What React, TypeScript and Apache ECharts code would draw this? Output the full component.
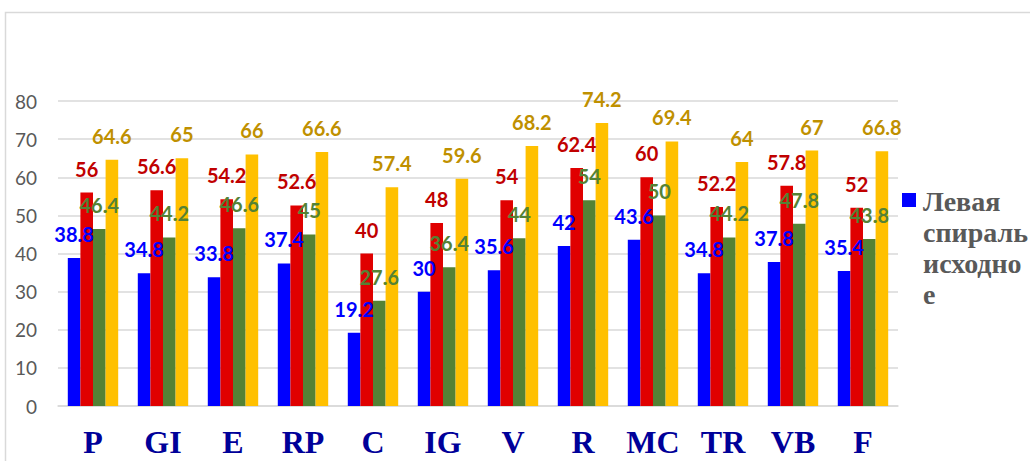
import React, { useEffect, useRef } from "react";
import * as echarts from "echarts";

const categories = ["P", "GI", "E", "RP", "C", "IG", "V", "R", "MC", "TR", "VB", "F"];
const seriesNames = ["Левая спираль исходное", "Серия 2", "Серия 3", "Серия 4"];
const blueValues = [38.8, 34.8, 33.8, 37.4, 19.2, 30, 35.6, 42, 43.6, 34.8, 37.8, 35.4];
const redValues = [56, 56.6, 54.2, 52.6, 40, 48, 54, 62.4, 60, 52.2, 57.8, 52];
const greenValues = [46.4, 44.2, 46.6, 45, 27.6, 36.4, 44, 54, 50, 44.2, 47.8, 43.8];
const goldValues = [64.6, 65, 66, 66.6, 57.4, 59.6, 68.2, 74.2, 69.4, 64, 67, 66.8];
const yTicks = [0, 10, 20, 30, 40, 50, 60, 70, 80];

const barColors = ["#0000FF", "#E00000", "#548235", "#FFC000"];
const labelColors = ["#0000FF", "#C00000", "#548235", "#BF9000"];

export default function App() {
  const ref = useRef<HTMLDivElement>(null);
  useEffect(() => {
    if (!ref.current) return;
    const chart = echarts.init(ref.current, undefined, { renderer: "svg" });
    const all = [blueValues, redValues, greenValues, goldValues];
    chart.setOption({
      animation: false,
      grid: { left: 58, right: 132, top: 101, bottom: 55, containLabel: false },
      xAxis: {
        type: "category",
        data: categories,
        axisLine: { lineStyle: { color: "#D9D9D9", width: 1.5 } },
        axisTick: { show: false },
        axisLabel: {
          color: "#000099",
          fontFamily: "Liberation Serif",
          fontWeight: "bold",
          fontSize: 32,
          margin: 20,
        },
      },
      yAxis: {
        type: "value",
        min: yTicks[0],
        max: yTicks[yTicks.length - 1],
        interval: 10,
        axisLine: { show: false },
        axisTick: { show: false },
        splitLine: { lineStyle: { color: "#D9D9D9", width: 1.5 } },
        axisLabel: { color: "#595959", fontFamily: "Lato", fontSize: 19, margin: 21 },
      },
      graphic: [
        {
          type: "rect",
          left: 3,
          top: 10,
          shape: { width: 1100, height: 500 },
          style: { fill: "none", stroke: "#D9D9D9", lineWidth: 1.5 },
          silent: true,
        },
        {
          type: "rect",
          left: 902,
          top: 193,
          shape: { width: 14, height: 14 },
          style: { fill: barColors[0] },
        },
        {
          type: "text",
          left: 923,
          top: 186,
          style: {
            text: "Левая\nспираль\nисходно\nе",
            fill: "#595959",
            fontFamily: "Liberation Serif",
            fontWeight: "bold",
            fontSize: 28,
            lineHeight: 31,
          },
        },
      ],
      series: all.map((vals, i) => ({
        name: seriesNames[i],
        type: "bar",
        data: vals,
        barGap: "0%",
        barCategoryGap: "28%",
        itemStyle: { color: barColors[i] },
        label: {
          show: true,
          position: "top",
          distance: 14,
          color: labelColors[i],
          fontFamily: "Lato",
          fontWeight: "bold",
          fontSize: 20,
        },
      })),
    });
    return () => chart.dispose();
  }, []);
  return (
    <div
      ref={ref}
      style={{ position: "fixed", left: 0, top: 0, width: 1030, height: 461, background: "#fff" }}
    />
  );
}
